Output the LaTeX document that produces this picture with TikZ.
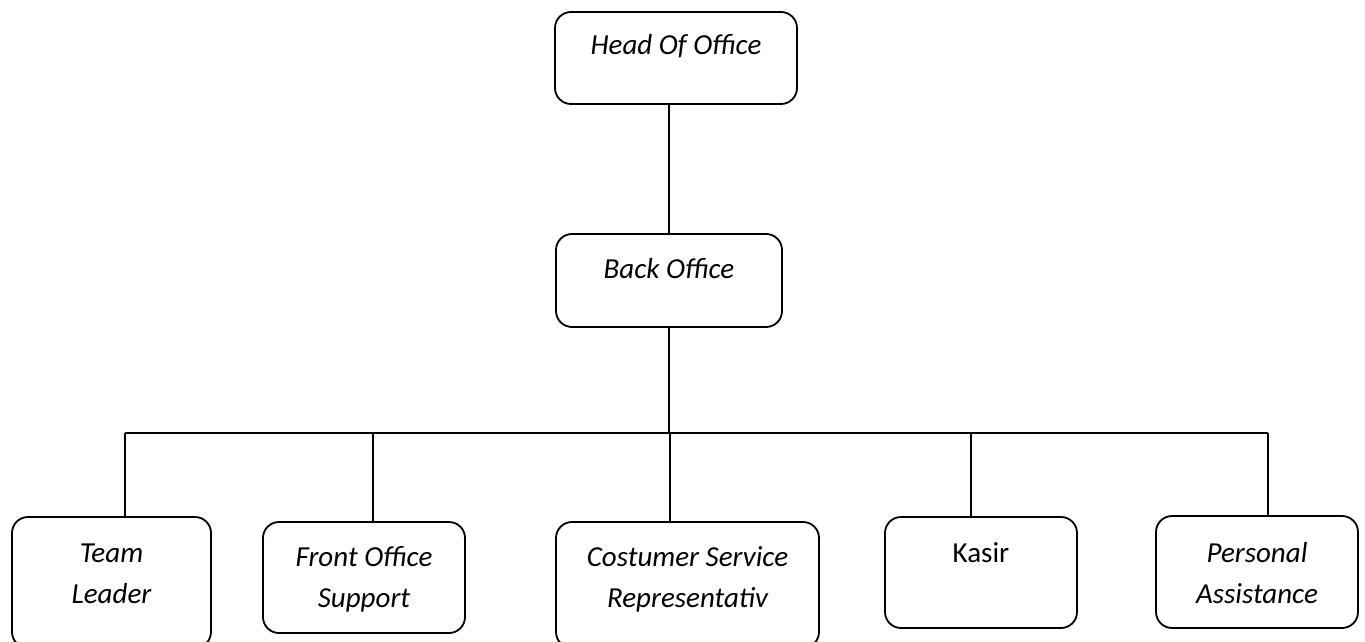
\documentclass[tikz,border=0pt]{standalone}
\usepackage{fontspec}
\setmainfont{Carlito}
\usepackage{tikz}

\begin{document}
\begin{tikzpicture}[
    x=1pt, y=-1pt,
    unit/.style={draw, rounded corners=16pt, line width=1.8pt, inner sep=0pt, align=center, font=\fontsize{29}{41}\selectfont\itshape},
    link/.style={line width=1.8pt}
]
\path[use as bounding box, clip] (0,0) rectangle (1365,642);

\node[unit, minimum width=242pt, text height=43pt, text depth=49pt] (head) at (676,58) {Head Of Office};
\node[unit, minimum width=226pt, text height=44pt, text depth=49pt] (back) at (669,280.5) {Back Office};

\node[unit, minimum width=199pt, text height=86pt, text depth=45pt] (team) at (111.5,582.5) {Team\\Leader};
\node[unit, minimum width=202pt, text height=85pt, text depth=26pt] (front) at (364,577.5) {Front Office\\Support};
\node[unit, minimum width=263pt, text height=85pt, text depth=41pt] (cs) at (687.5,585) {Costumer Service\\Representativ};
\node[unit, minimum width=192pt, text height=45pt, text depth=66pt, font=\fontsize{29}{41}\selectfont\upshape] (kasir) at (981,572.5) {Kasir};
\node[unit, minimum width=202pt, text height=87pt, text depth=25pt] (pa) at (1257,572) {Personal\\Assistance};

% bus and drop points
\coordinate (d1) at (125,433);
\coordinate (d2) at (373,433);
\coordinate (d3) at (670,433);
\coordinate (d4) at (971,433);
\coordinate (d5) at (1268,433);

\draw[link] (back.north) -- (back.north |- head.south);
\draw[link] (back.south) -- (back.south |- d1);
\draw[link] (d1) -- (d5);
\draw[link] (d1) -- (d1 |- team.north);
\draw[link] (d2) -- (d2 |- front.north);
\draw[link] (d3) -- (d3 |- cs.north);
\draw[link] (d4) -- (d4 |- kasir.north);
\draw[link] (d5) -- (d5 |- pa.north);
\end{tikzpicture}
\end{document}
